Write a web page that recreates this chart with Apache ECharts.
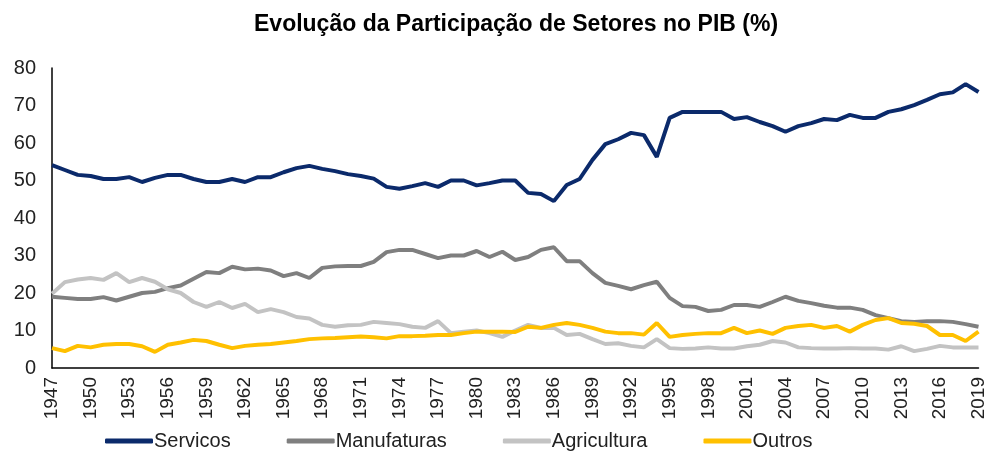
<!DOCTYPE html>
<html>
<head>
<meta charset="utf-8">
<title>Evolução da Participação de Setores no PIB</title>
<script src="https://cdn.jsdelivr.net/npm/echarts@6/dist/echarts.min.js"></script>
<style>
    html, body { margin: 0; padding: 0; background: #fff; }
    #graph { width: 988px; height: 456px; }
</style>
</head>
<body>
<div id="graph"></div>
<script>
// anos 1947 - 2019
var anos = [];
for (var a = 1947; a <= 2019; a++) anos.push(String(a));

var servicos = [
    54.1, 52.8, 51.5, 51.2, 50.4, 50.4, 50.9, 49.6, 50.7, 51.5,
    51.5, 50.4, 49.6, 49.6, 50.4, 49.6, 50.9, 50.9, 52.2, 53.3,
    53.9, 53.1, 52.5, 51.7, 51.2, 50.5, 48.3, 47.8, 48.5, 49.3,
    48.3, 50.0, 50.0, 48.7, 49.3, 50.0, 50.0, 46.7, 46.4, 44.5,
    48.8, 50.4, 55.5, 59.7, 61.0, 62.7, 62.1, 56.3, 66.7, 68.3,
    68.3, 68.3, 68.3, 66.4, 66.9, 65.6, 64.5, 63.0, 64.5, 65.3,
    66.4, 66.1, 67.5, 66.7, 66.7, 68.3, 69.0, 70.1, 71.5, 73.0,
    73.5, 75.7, 73.6
];
var manufaturas = [
    19.0, 18.7, 18.4, 18.4, 18.9, 18.0, 19.0, 20.0, 20.3, 21.3,
    22.0, 23.8, 25.6, 25.3, 27.0, 26.3, 26.5, 26.0, 24.5, 25.3,
    24.0, 26.7, 27.1, 27.2, 27.2, 28.3, 30.9, 31.5, 31.5, 30.4,
    29.3, 30.0, 30.0, 31.2, 29.6, 31.0, 28.8, 29.6, 31.5, 32.2,
    28.5, 28.5, 25.3, 22.7, 21.9, 21.0, 22.1, 23.0, 18.7, 16.5,
    16.3, 15.2, 15.5, 16.8, 16.8, 16.3, 17.6, 19.0, 17.9, 17.3,
    16.6, 16.1, 16.1, 15.5, 14.1, 13.3, 12.5, 12.3, 12.5, 12.5,
    12.3, 11.7, 11.0
];
var agricultura = [
    19.8, 22.9, 23.6, 24.0, 23.5, 25.3, 22.9, 24.0, 23.0, 21.0,
    20.0, 17.6, 16.3, 17.6, 16.0, 17.1, 14.9, 15.7, 14.9, 13.6,
    13.2, 11.5, 11.0, 11.4, 11.5, 12.3, 12.0, 11.7, 11.0, 10.7,
    12.5, 9.3, 9.7, 10.0, 9.3, 8.3, 10.0, 11.5, 10.7, 10.7,
    8.8, 9.1, 7.7, 6.4, 6.6, 5.9, 5.5, 7.7, 5.3, 5.1,
    5.2, 5.5, 5.2, 5.2, 5.8, 6.2, 7.2, 6.8, 5.5, 5.3,
    5.2, 5.2, 5.3, 5.2, 5.2, 4.9, 5.8, 4.5, 5.1, 5.9,
    5.5, 5.5, 5.5
];
var outros = [
    5.3, 4.5, 5.9, 5.5, 6.2, 6.4, 6.4, 5.8, 4.3, 6.2,
    6.8, 7.5, 7.2, 6.2, 5.3, 5.9, 6.2, 6.4, 6.8, 7.2,
    7.7, 7.9, 8.0, 8.2, 8.4, 8.2, 7.9, 8.5, 8.5, 8.6,
    8.8, 8.8, 9.3, 9.7, 9.7, 9.7, 9.6, 11.0, 10.7, 11.5,
    12.0, 11.5, 10.7, 9.7, 9.3, 9.3, 8.9, 12.0, 8.3, 8.8,
    9.1, 9.3, 9.3, 10.7, 9.3, 10.0, 9.1, 10.7, 11.2, 11.5,
    10.7, 11.2, 9.7, 11.5, 12.8, 13.3, 12.0, 11.8, 11.2, 8.8,
    8.8, 7.2, 9.7
];

var nomes = ['Servicos', 'Manufaturas', 'Agricultura', 'Outros'];
var cores = ['#0b2a6b', '#7f7f7f', '#c3c3c3', '#ffc000'];
var valores = [servicos, manufaturas, agricultura, outros];

var fonte = '"Liberation Sans", Arial, sans-serif';

var series = [];
for (var i = 0; i < nomes.length; i++) {
    series.push({
        name: nomes[i],
        type: 'line',
        data: valores[i],
        symbol: 'none',
        lineStyle: { width: 4, color: cores[i] },
        itemStyle: { color: cores[i] }
    });
}

var myChart = echarts.init(document.getElementById('graph'));
var option = {
    animation: false,
    color: cores,
    title: {
        text: 'Evolução da Participação de Setores no PIB (%)',
        left: 249,
        top: 8,
        textStyle: { fontFamily: fonte, fontSize: 23, fontWeight: 'bold', color: '#000' }
    },
    legend: {
        data: nomes,
        bottom: 0,
        left: 100,
        icon: 'roundRect',
        itemWidth: 48,
        itemHeight: 5,
        itemGap: 56,
        textStyle: { fontFamily: fonte, fontSize: 20, color: '#222', padding: [0, 0, 0, -4] }
    },
    grid: { left: 52, right: 9, top: 68, bottom: 88 },
    xAxis: {
        type: 'category',
        data: anos,
        boundaryGap: false,
        axisLine: { lineStyle: { color: '#000', width: 1.5 } },
        axisTick: { show: false },
        axisLabel: {
            interval: 2,
            rotate: 90,
            margin: 9,
            fontFamily: fonte,
            fontSize: 19,
            color: '#222'
        }
    },
    yAxis: {
        type: 'value',
        min: 0,
        max: 80,
        interval: 10,
        splitLine: { show: false },
        axisLine: { show: true, lineStyle: { color: '#000', width: 1.5 } },
        axisTick: { show: false },
        axisLabel: { margin: 16, fontFamily: fonte, fontSize: 20, color: '#222' }
    },
    series: series
};
myChart.setOption(option);
</script>
</body>
</html>
